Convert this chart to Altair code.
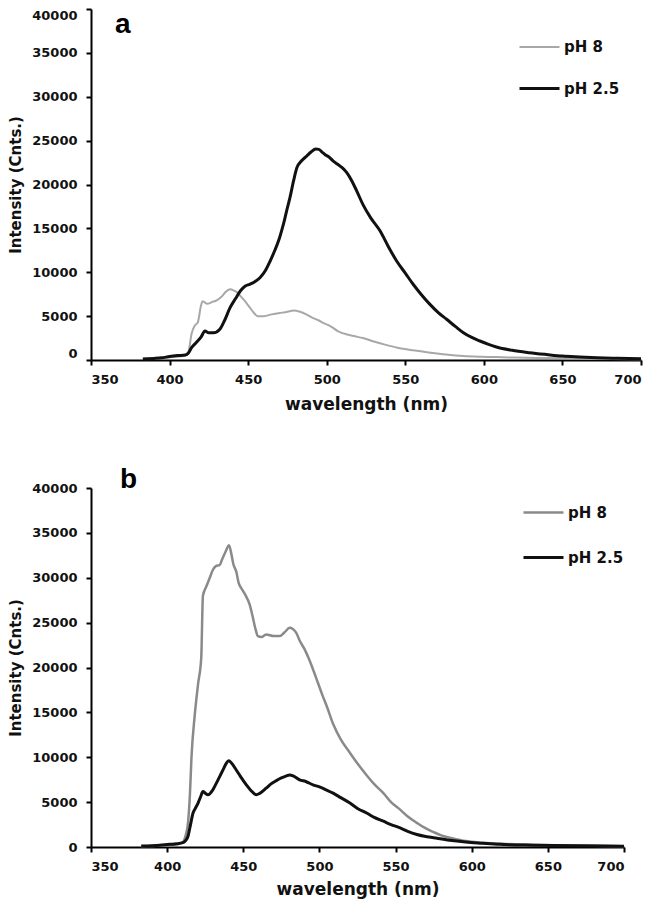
import altair as alt
import pandas as pd

series_names = ["pH 8", "pH 2.5"]
x_ticks = [350, 400, 450, 500, 550, 600, 650, 700]
y_ticks = [0, 5000, 10000, 15000, 20000, 25000, 30000, 35000, 40000]

# ---- panel a ----
a_ph8_wl = [383, 390, 400, 405, 410, 412, 414, 416, 418, 420, 421, 424, 427, 430, 433, 436, 438.5, 441, 443, 445,
            448, 451, 454, 456, 460, 465, 470, 475, 479, 483, 487, 491, 495, 498, 502, 507, 513, 518, 523, 530,
            537, 545, 555, 566, 576, 587, 598, 608, 620, 640, 660, 680, 700]
a_ph8_int = [150, 200, 300, 380, 500, 900, 3000, 3900, 4300, 6200, 6700, 6400, 6600, 6800, 7200, 7800, 8050, 7900, 7700, 7300,
             6700, 6000, 5300, 5000, 5000, 5200, 5350, 5500, 5650, 5500, 5200, 4800, 4500, 4200, 3900, 3300, 2900, 2700, 2500, 2100,
             1750, 1400, 1100, 830, 620, 450, 370, 330, 280, 220, 160, 120, 90]

a_ph25_wl = [383, 390, 395, 400, 405, 410, 412, 414, 417, 420, 422.5, 425, 428, 432, 435, 438.5, 442, 445, 448, 451,
             454, 457.5, 461, 464, 467, 470, 472.5, 474.5, 476.6, 479, 481, 484, 487.3, 490, 493, 495, 497, 499, 501, 504,
             507, 510, 513, 516, 519, 523, 528, 534, 539, 544.5, 550, 555, 560, 565.7, 571, 576.3, 582, 587, 592, 597.5,
             603, 608, 618, 629, 640, 650, 661, 672, 685, 700]
a_ph25_int = [120, 180, 250, 400, 500, 570, 800, 1400, 2000, 2600, 3300, 3100, 3100, 3500, 4500, 5960, 7000, 7860, 8400, 8630,
              8900, 9380, 10200, 11280, 12500, 13940, 15500, 17000, 18500, 20500, 21900, 22700, 23250, 23700, 24050, 24000, 23700, 23400, 23200, 22700,
              22300, 21900, 21300, 20400, 19300, 17740, 16200, 14700, 13000, 11280, 9900, 8630, 7500, 6340, 5400, 4640, 3800, 3110, 2600, 2165,
              1780, 1480, 1100, 830, 620, 450, 350, 265, 200, 150]

# ---- panel b ----
b_ph8_wl = [383, 390, 400, 405, 410, 412, 413.7, 415, 416, 418, 420.3, 422.4, 423.5, 425.7, 428, 430, 432, 434.5, 436, 438.8,
            440.6, 442, 443.5, 445.4, 447, 448.7, 451, 454.2, 456, 458, 459.6, 462, 465, 470, 473.9, 477, 480.5, 482.5, 484.8, 487,
            490.3, 493, 496, 499, 502, 505, 509, 514, 520, 525, 531, 536, 542, 547, 553, 558, 564, 569, 575, 580,
            585.5, 591, 596, 607, 620, 640, 660, 680, 700]
b_ph8_int = [80, 120, 200, 250, 480, 1200, 2690, 6000, 10060, 14480, 18150, 21100, 28000, 29020, 30000, 30860, 31300, 31420, 32000, 33070,
             33630, 32800, 31500, 30680, 29400, 28840, 28200, 27000, 25800, 24300, 23500, 23400, 23680, 23500, 23500, 23900, 24420, 24300, 23870, 23000,
             22020, 21000, 19700, 18300, 16900, 15600, 13700, 12000, 10500, 9300, 8000, 7000, 6000, 5000, 4160, 3400, 2690, 2150, 1660, 1300,
             1030, 830, 660, 480, 350, 250, 180, 130, 90]

b_ph25_wl = [383, 390, 395, 401.6, 406, 410.4, 412, 413.7, 415, 417, 418.5, 420.3, 422, 423.5, 425, 426.8, 430, 432, 434.5, 437,
             438.8, 440.5, 442.1, 445.4, 448, 452, 455, 458.5, 461, 465, 468, 471.7, 475, 478, 480.5, 483, 487, 491, 495.8, 500,
             504, 509, 514, 520, 525, 531, 536, 542, 547, 553, 558, 564, 569, 575, 585.5, 596, 607, 618, 640, 670, 700]
b_ph25_int = [100, 150, 200, 300, 350, 480, 700, 1200, 2200, 3790, 4300, 4900, 5600, 6190, 6000, 5820, 6370, 7000, 7850, 8700,
              9320, 9600, 9390, 8580, 7900, 6930, 6300, 5820, 6000, 6550, 7000, 7400, 7700, 7900, 8030, 7900, 7480, 7300, 6930, 6700,
              6400, 6000, 5500, 4900, 4300, 3790, 3300, 2870, 2500, 2130, 1750, 1400, 1200, 1030, 740, 550, 420, 300, 200, 130, 80]

FONT = "DejaVu Sans"


def panel(wl8, i8, wl25, i25, gray, w8, width, height, letter, lx, ly, legx, legy, rowpad, flush, xtp):
    df = pd.DataFrame({
        "wavelength": list(wl8) + list(wl25),
        "intensity": list(i8) + list(i25),
        "series": ["pH 8"] * len(wl8) + ["pH 2.5"] * len(wl25),
    })
    leg = alt.Legend(orient="none", legendX=legx, legendY=legy, title=None, symbolType="stroke",
                     symbolSize=1600, labelFont=FONT, labelFontWeight="bold", labelFontSize=15,
                     labelColor="#111111", rowPadding=rowpad, padding=0, labelOffset=3)
    lines = alt.Chart(df).mark_line(interpolate="monotone").encode(
        x=alt.X("wavelength:Q", scale=alt.Scale(domain=[350, 700], nice=False, zero=False),
                axis=alt.Axis(values=x_ticks, title="wavelength (nm)", format="d", titlePadding=xtp)),
        y=alt.Y("intensity:Q", scale=alt.Scale(domain=[0, 40000], nice=False),
                axis=alt.Axis(values=y_ticks, title="Intensity (Cnts.)", format="d", labelFlush=flush)),
        color=alt.Color("series:N", sort=series_names,
                        scale=alt.Scale(domain=series_names, range=[gray, "#111111"]), legend=leg),
        strokeWidth=alt.StrokeWidth("series:N", sort=series_names,
                                    scale=alt.Scale(domain=series_names, range=[w8, 3]), legend=leg),
    )
    lab = alt.Chart(pd.DataFrame({"label": [letter]})).mark_text(
        font="Liberation Sans", fontWeight="bold", fontSize=28, align="left", baseline="alphabetic",
        color="#000000").encode(x=alt.value(lx), y=alt.value(ly), text="label:N")
    return alt.layer(lines, lab).properties(width=width, height=height)


pa = panel(a_ph8_wl, a_ph8_int, a_ph25_wl, a_ph25_int, "#a8a8a8", 2, 550, 351, "a", 24, 24, 427, 17, 12, True, 10)
pb = panel(b_ph8_wl, b_ph8_int, b_ph25_wl, b_ph25_int, "#8a8a8a", 2.5, 533, 359, "b", 29, 0, 431, 3, 15, False, 8)

chart = alt.vconcat(pa, pb, spacing=54).resolve_scale(
    color="independent", strokeWidth="independent"
).resolve_legend(color="independent", strokeWidth="independent").properties(
    padding={"left": 0, "top": 0, "right": 0, "bottom": 6}
).configure_view(stroke=None).configure_axis(
    domainColor="#000000", domainWidth=2, tickColor="#000000", tickWidth=2, tickSize=5, grid=False,
    labelFont=FONT, labelFontWeight="bold", labelFontSize=13, labelColor="#111111",
    titleFont=FONT, titleFontWeight="bold", titleColor="#111111"
).configure_axisX(titleFontSize=17, labelPadding=8).configure_axisY(
    titleFontSize=15, labelPadding=9, titlePadding=8)

chart.save("out.html", embed_options={"renderer": "svg", "actions": False})
